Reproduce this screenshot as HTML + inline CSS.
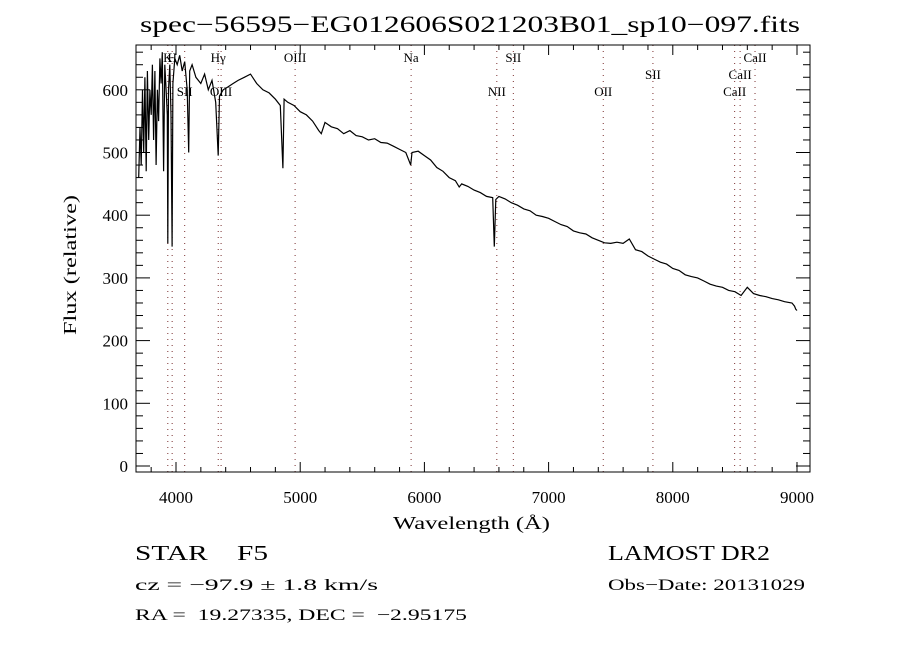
<!DOCTYPE html>
<html><head><meta charset="utf-8"><style>
body{margin:0;background:#fff;}
svg text{font-family:"Liberation Serif",serif;fill:#000;}
</style></head><body>
<svg id="chart" width="900" height="650" xmlns="http://www.w3.org/2000/svg">
<text x="140" y="32" font-size="23" textLength="660" lengthAdjust="spacingAndGlyphs">spec−56595−EG012606S021203B01_sp10−097.fits</text>
<g id="lines"></g>
<g id="ticks"></g>
<path id="spec" fill="none" stroke="#000" stroke-width="1.2"/>
<rect x="136" y="45" width="674" height="427" fill="none" stroke="#000" stroke-width="1"/>
<text x="393" y="529" font-size="18" textLength="157" lengthAdjust="spacingAndGlyphs">Wavelength (Å)</text>
<text transform="translate(76,335) rotate(-90)" font-size="18" textLength="140" lengthAdjust="spacingAndGlyphs">Flux (relative)</text>
<text x="135" y="560" font-size="21" textLength="133" lengthAdjust="spacingAndGlyphs" xml:space="preserve">STAR    F5</text>
<text x="608" y="560" font-size="21" textLength="162" lengthAdjust="spacingAndGlyphs">LAMOST DR2</text>
<text x="135" y="590" font-size="16" textLength="243" lengthAdjust="spacingAndGlyphs">cz = −97.9 ± 1.8 km/s</text>
<text x="608" y="590" font-size="16" textLength="197" lengthAdjust="spacingAndGlyphs">Obs−Date: 20131029</text>
<text x="135" y="620" font-size="16" textLength="332" lengthAdjust="spacingAndGlyphs" xml:space="preserve">RA =  19.27335, DEC =  −2.95175</text>
</svg>
<script>
const wavelengths=[3700,3710,3720,3730,3740,3750,3760,3770,3780,3790,3800,3810,3820,3830,3840,3850,3860,3870,3880,3890,3900,3910,3920,3930,3934,3940,3950,3960,3969,3975,3990,4010,4030,4050,4070,4090,4102,4110,4130,4160,4200,4230,4260,4290,4320,4340,4350,4380,4420,4460,4500,4550,4600,4650,4700,4750,4800,4840,4861,4870,4900,4950,5000,5050,5100,5150,5170,5200,5250,5300,5350,5400,5450,5500,5550,5600,5650,5700,5750,5800,5850,5890,5900,5950,6000,6050,6100,6150,6200,6250,6280,6300,6350,6400,6450,6500,6550,6563,6575,6600,6650,6700,6750,6800,6850,6900,6950,7000,7050,7100,7150,7200,7250,7300,7350,7400,7450,7500,7550,7600,7650,7700,7750,7800,7850,7900,7950,8000,8050,8100,8150,8200,8250,8300,8350,8400,8450,8500,8550,8600,8650,8700,8750,8800,8850,8900,8960,8980,8990,9000];
const fluxes=[460,540,480,600,500,620,470,630,520,600,560,640,520,630,480,600,550,650,610,660,470,640,600,560,355,600,640,560,350,610,650,640,655,630,645,600,500,630,640,620,610,625,600,615,580,495,590,600,605,610,615,620,625,610,600,595,585,575,475,585,580,575,565,560,550,535,530,548,541,538,530,535,527,525,520,522,516,515,510,505,500,480,500,502,495,488,476,470,460,455,445,450,446,440,436,430,428,350,425,430,426,420,416,410,407,400,398,395,390,385,382,375,372,370,364,360,356,355,357,355,362,345,342,335,330,325,322,315,312,305,302,300,295,290,287,285,280,278,272,285,275,272,270,267,265,262,260,255,250,248,240,0];
const xTicks=[4000,5000,6000,7000,8000,9000];
const yTicks=[0,100,200,300,400,500,600];
const lineNames=["K","H","SII","Hγ","OIII","OIII","Na","NII","SII","OII","SII","CaII","CaII","CaII"];
const lineWaves=[3934,3969,4070,4340,4363,4959,5893,6583,6716,7440,7840,8498,8542,8662];
const lineRows=[0,0,1,0,1,0,0,1,0,1,0.5,1,0.5,0];
const X=w=>176+(w-4000)*0.1242;
const Y=f=>466-f*0.627;
const NS="http://www.w3.org/2000/svg";
let d="";
wavelengths.forEach((w,i)=>{d+=(i?"L":"M")+X(w).toFixed(1)+","+Math.max(45,Y(fluxes[i])).toFixed(1);});
document.getElementById("spec").setAttribute("d",d);
const T=document.getElementById("ticks");
function ln(g,x1,y1,x2,y2,extra){const l=document.createElementNS(NS,"line");l.setAttribute("x1",x1);l.setAttribute("y1",y1);l.setAttribute("x2",x2);l.setAttribute("y2",y2);l.setAttribute("stroke",extra||"#000");g.appendChild(l);return l;}
for(let w=3800;w<=9100;w+=200){const x=X(w),maj=w%1000===0,L=maj?10:5;const a=ln(T,x,472,x,472-L);const b=ln(T,x,45,x,45+L);}
for(let f=0;f<=660;f+=20){const y=Y(f),maj=f%100===0,L=maj?14:7;const a=ln(T,136,y,136+L,y);const b=ln(T,810,y,810-L,y);}
xTicks.forEach(v=>{const t=document.createElementNS(NS,"text");t.setAttribute("x",X(v));t.setAttribute("y",503);t.setAttribute("font-size","17");t.setAttribute("text-anchor","middle");t.textContent=v;


T.appendChild(t);});
yTicks.forEach(v=>{const t=document.createElementNS(NS,"text");t.setAttribute("x",128);t.setAttribute("y",Y(v)+6);t.setAttribute("font-size","17");t.setAttribute("text-anchor","end");t.textContent=v;


T.appendChild(t);});
const G=document.getElementById("lines");
lineWaves.forEach((w,i)=>{const x=X(w);const l=ln(G,x,45,x,472,"#7a3030");l.setAttribute("stroke-dasharray","1,5");


const t=document.createElementNS(NS,"text");t.setAttribute("x",x);t.setAttribute("y",62+lineRows[i]*34);t.setAttribute("font-size","13");t.setAttribute("text-anchor","middle");t.textContent=lineNames[i];


G.appendChild(t);});
</script>
</body></html>
